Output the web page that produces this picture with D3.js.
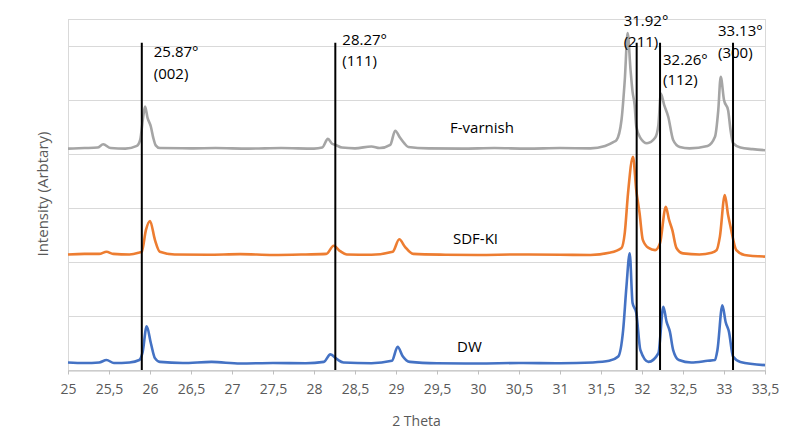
<!DOCTYPE html>
<meta charset='utf-8'>
<style>
body { margin: 0; background: #fff; }
text { font-family: 'Open Sans', sans-serif; }
.grid line { stroke: #d9d9d9; stroke-width: 1px; }
.axis-text { fill: #595959; }
</style>
<svg id='chart' width='800' height='443'></svg>
<script src="https://d3js.org/d3.v7.min.js"></script>
<script>
// 2 theta (deg) vs stacked intensity
const fVarnish = [
  [25.00, 4.10], [25.20, 4.11], [25.36, 4.12], [25.43, 4.18], [25.52, 4.11], [25.70, 4.10],
  [25.84, 4.15], [25.88, 4.26], [25.92, 4.72], [25.94, 4.88], [25.97, 4.67], [26.01, 4.51],
  [26.04, 4.30], [26.07, 4.16], [26.12, 4.11], [26.50, 4.105], [26.80, 4.11], [27.20, 4.10],
  [27.60, 4.11], [28.00, 4.10], [28.10, 4.12], [28.17, 4.28], [28.22, 4.19], [28.26, 4.17],
  [28.34, 4.12], [28.50, 4.105], [28.70, 4.14], [28.80, 4.11], [28.93, 4.17], [28.99, 4.43],
  [29.05, 4.30], [29.10, 4.20], [29.15, 4.13], [29.40, 4.105], [29.80, 4.10], [30.20, 4.11],
  [30.60, 4.10], [31.00, 4.11], [31.37, 4.105], [31.55, 4.15], [31.65, 4.22], [31.69, 4.26],
  [31.75, 4.63], [31.79, 5.37], [31.825, 6.24], [31.86, 5.56], [31.885, 5.15], [31.91, 4.91],
  [31.93, 4.51], [31.98, 4.30], [32.06, 4.20], [32.16, 4.30], [32.20, 4.54], [32.23, 5.12],
  [32.27, 4.91], [32.32, 4.69], [32.38, 4.26], [32.46, 4.13], [32.58, 4.105], [32.80, 4.15],
  [32.89, 4.32], [32.93, 4.81], [32.96, 5.43], [33.00, 5.00], [33.05, 4.81], [33.08, 4.44],
  [33.11, 4.20], [33.20, 4.12], [33.35, 4.09], [33.50, 4.07]
];

const sdfKi = [
  [25.00, 2.14], [25.20, 2.15], [25.38, 2.15], [25.47, 2.19], [25.55, 2.15], [25.75, 2.14],
  [25.86, 2.17], [25.90, 2.19], [25.95, 2.59], [26.00, 2.76], [26.06, 2.41], [26.12, 2.19],
  [26.30, 2.14], [26.70, 2.135], [27.10, 2.145], [27.50, 2.13], [27.90, 2.14], [28.15, 2.15],
  [28.24, 2.30], [28.32, 2.20], [28.40, 2.14], [28.70, 2.135], [28.96, 2.19], [29.04, 2.42],
  [29.11, 2.28], [29.21, 2.15], [29.60, 2.135], [30.00, 2.13], [30.50, 2.14], [31.00, 2.135],
  [31.37, 2.13], [31.60, 2.17], [31.75, 2.26], [31.79, 2.54], [31.83, 3.28], [31.89, 3.95],
  [31.93, 3.33], [31.97, 2.91], [32.01, 2.41], [32.08, 2.26], [32.16, 2.22], [32.22, 2.35],
  [32.29, 3.02], [32.33, 2.78], [32.37, 2.59], [32.42, 2.26], [32.50, 2.16], [32.70, 2.14],
  [32.85, 2.17], [32.91, 2.22], [32.95, 2.47], [33.01, 3.24], [33.05, 2.87], [33.08, 2.65],
  [33.15, 2.22], [33.25, 2.13], [33.50, 2.10]
];

const dw = [
  [25.00, 0.14], [25.20, 0.13], [25.38, 0.14], [25.47, 0.185], [25.56, 0.13], [25.75, 0.14],
  [25.87, 0.185], [25.91, 0.33], [25.96, 0.81], [26.01, 0.50], [26.06, 0.22], [26.12, 0.15],
  [26.40, 0.13], [26.75, 0.15], [27.10, 0.12], [27.50, 0.13], [27.90, 0.125], [28.12, 0.15],
  [28.20, 0.29], [28.28, 0.20], [28.36, 0.14], [28.70, 0.125], [28.95, 0.17], [29.02, 0.43],
  [29.08, 0.26], [29.17, 0.15], [29.50, 0.125], [30.00, 0.12], [30.50, 0.13], [31.00, 0.125],
  [31.40, 0.14], [31.60, 0.17], [31.71, 0.25], [31.77, 0.74], [31.81, 1.54], [31.85, 2.16],
  [31.885, 1.24], [31.93, 1.06], [31.98, 0.37], [32.08, 0.15], [32.20, 0.31], [32.26, 1.17],
  [32.30, 0.89], [32.34, 0.71], [32.38, 0.37], [32.45, 0.185], [32.60, 0.14], [32.80, 0.17],
  [32.89, 0.185], [32.92, 0.37], [32.98, 1.20], [33.02, 0.89], [33.06, 0.71], [33.11, 0.25],
  [33.20, 0.15], [33.50, 0.09]
];

const seriesNames = ['F-varnish', 'SDF-KI', 'DW'];
const seriesData = [fVarnish, sdfKi, dw];
const seriesColors = ['#a5a5a5', '#ed7d31', '#4472c4'];

const xTicks = [25, 25.5, 26, 26.5, 27, 27.5, 28, 28.5, 29, 29.5, 30, 30.5, 31, 31.5, 32, 32.5, 33, 33.5];
const xTickLabels = ['25', '25,5', '26', '26,5', '27', '27,5', '28', '28,5', '29', '29,5', '30', '30,5', '31', '31,5', '32', '32,5', '33', '33,5'];
const yGrid = [1, 2, 3, 4, 5, 6];

// reference peaks (vertical lines) and their labels
const peakPositions = [25.9, 28.26, 31.935, 32.22, 33.11];
const peakAngles = ['25.87°', '28.27°', '31.92°', '32.26°', '33.13°'];
const peakPlanes = ['(002)', '(111)', '(211)', '(112)', '(300)'];
const peakLineTop = 6.06;

// label placement: x offset from line, baselines of the two text rows
const peakLabelLayout = [
  { dx: 12, y1: 57, y2: 79 },
  { dx: 7, y1: 45, y2: 66 },
  { dx: -13, y1: 26, y2: 47 },
  { dx: 3, y1: 65, y2: 85 },
  { dx: -15, y1: 36, y2: 58 }
];
const seriesLabelLayout = [
  { x: 450, y: 133 },
  { x: 453, y: 244 },
  { x: 457, y: 352 }
];

const margin = { left: 68, right: 35, top: 19, bottom: 73 };
const width = 800;
const height = 443;

const x = d3.scaleLinear()
  .domain([25, 33.5])
  .range([margin.left, width - margin.right]);

const y = d3.scaleLinear()
  .domain([0, 6.5])
  .range([height - margin.bottom, margin.top]);

const svg = d3.select('#chart');

// gridlines
svg.append('g')
  .attr('class', 'grid')
  .selectAll('line')
  .data(yGrid)
  .join('line')
    .attr('x1', x(25))
    .attr('x2', x(33.5))
    .attr('y1', d => Math.round(y(d)) + 0.5)
    .attr('y2', d => Math.round(y(d)) + 0.5);

// plot area border
svg.append('rect')
  .attr('x', Math.round(x(25)) + 0.5)
  .attr('y', Math.round(y(6.5)) + 0.5)
  .attr('width', Math.round(x(33.5) - x(25)))
  .attr('height', Math.round(y(0) - y(6.5)))
  .attr('fill', 'none')
  .attr('stroke', '#d9d9d9');

// x axis
const xAxis = svg.append('g')
  .attr('transform', `translate(0,${Math.round(y(0)) + 0.5})`)
  .call(d3.axisBottom(x)
    .tickValues(xTicks)
    .tickFormat((d, i) => xTickLabels[i])
    .tickSizeInner(4)
    .tickSizeOuter(0)
    .tickPadding(10));

xAxis.select('.domain').attr('stroke', '#bfbfbf');
xAxis.selectAll('.tick line').attr('stroke', '#bfbfbf');
xAxis.selectAll('.tick text')
  .attr('class', 'axis-text')
  .style('font-size', '14px')
  .style('font-family', "'Open Sans', sans-serif");

// series
const line = d3.line()
  .x(d => x(d[0]))
  .y(d => y(d[1]))
  .curve(d3.curveMonotoneX);

svg.append('g')
  .selectAll('path')
  .data(seriesData)
  .join('path')
    .attr('d', line)
    .attr('fill', 'none')
    .attr('stroke', (d, i) => seriesColors[i])
    .attr('stroke-width', 2.6)
    .attr('stroke-linejoin', 'round');

// peak lines
svg.append('g')
  .selectAll('line')
  .data(peakPositions)
  .join('line')
    .attr('x1', d => x(d))
    .attr('x2', d => x(d))
    .attr('y1', y(peakLineTop))
    .attr('y2', y(0))
    .attr('stroke', '#000')
    .attr('stroke-width', 2);

const peakLabels = svg.append('g')
  .selectAll('text')
  .data(peakPositions)
  .join('text')
    .style('font-size', '15px')
    .attr('fill', '#000');

peakLabels.append('tspan')
  .attr('x', (d, i) => x(d) + peakLabelLayout[i].dx)
  .attr('y', (d, i) => peakLabelLayout[i].y1)
  .text((d, i) => peakAngles[i]);

peakLabels.append('tspan')
  .attr('x', (d, i) => x(d) + peakLabelLayout[i].dx)
  .attr('y', (d, i) => peakLabelLayout[i].y2)
  .text((d, i) => peakPlanes[i]);

// series names
svg.append('g')
  .selectAll('text')
  .data(seriesNames)
  .join('text')
    .attr('x', (d, i) => seriesLabelLayout[i].x)
    .attr('y', (d, i) => seriesLabelLayout[i].y)
    .style('font-size', '15px')
    .attr('fill', '#000')
    .text(d => d);

// axis titles
svg.append('text')
  .attr('class', 'axis-text')
  .attr('x', (x(25) + x(33.5)) / 2)
  .attr('y', 426)
  .attr('text-anchor', 'middle')
  .style('font-size', '14px')
  .text('2 Theta');

svg.append('text')
  .attr('class', 'axis-text')
  .attr('transform', 'translate(48,194) rotate(-90)')
  .attr('text-anchor', 'middle')
  .style('font-size', '15px')
  .text('Intensity (Arbtary)');
</script>
